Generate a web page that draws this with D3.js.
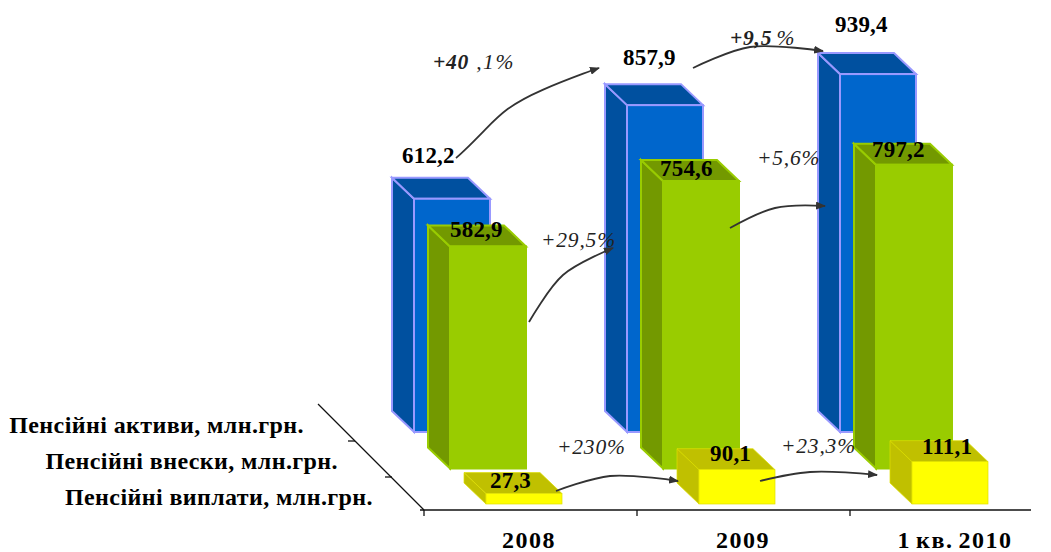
<!DOCTYPE html>
<html><head><meta charset="utf-8">
<script src="https://cdn.jsdelivr.net/npm/d3@7"></script>
<style>html,body{margin:0;background:#fff}svg{display:block}text{font-family:"Liberation Serif",serif}</style>
</head><body><div id="c"></div>
<script>
const categories = ["2008","2009","1 кв. 2010"];
const seriesNames = ["Пенсійні активи, млн.грн.","Пенсійні внески, млн.грн.","Пенсійні виплати, млн.грн."];
const assets = [612.2,857.9,939.4];
const contributions = [582.9,754.6,797.2];
const payments = [27.3,90.1,111.1];
const changes = ["+40,1%","+9,5%","+29,5%","+5,6%","+230%","+23,3%"];

const W=1051,H=552;
const svg=d3.select("#c").append("svg").attr("width",W).attr("height",H);
const fmt=v=>String(v).replace(".",",");
const x=d3.scaleBand().domain(categories).range([424,1063]).paddingInner(0).paddingOuter(0);
const h=d3.scaleLinear().domain([0,1000]).range([0,381]);
const dx=22,dy=21,bw=76;
const series=[
 {name:seriesNames[0],vals:assets,off:-10,base:432,front:"#0066cc",side:"#00509f",stroke:"#9999ff",sw:2},
 {name:seriesNames[1],vals:contributions,off:26,base:468.5,front:"#99cc00",side:"#739900",stroke:"#99cc00",sw:2},
 {name:seriesNames[2],vals:payments,off:62,base:504,front:"#ffff00",side:"#c0c000",stroke:"#e0e000",sw:.7}
];
const ax=svg.append("g").attr("stroke","#111").attr("stroke-width",1.3).attr("fill","none");
svg.append("g").attr("transform","translate(0,510)")
  .call(d3.axisBottom(x).tickValues([]).tickSize(0)).call(g=>g.select("path").attr("stroke","#111").attr("stroke-width",1.3).attr("d","M420,0H1031"));
categories.forEach(c=>ax.append("line").attr("x1",x(c)).attr("x2",x(c)).attr("y1",510).attr("y2",516));
ax.append("line").attr("x1",318).attr("y1",404).attr("x2",424).attr("y2",510);
[[355,441],[392,477]].forEach(p=>ax.append("line").attr("x1",p[0]-7).attr("x2",p[0]).attr("y1",p[1]).attr("y2",p[1]));
categories.forEach((c,i)=>{
 series.forEach(s=>{
  const g=svg.append("g").attr("stroke",s.stroke).attr("stroke-width",s.sw).attr("stroke-linejoin","miter");
  const L=x(c)+s.off, R=L+bw, B=s.base, T=B-h(s.vals[i]);
  g.append("path").attr("fill",s.side).attr("d",`M${L},${T}L${L-dx},${T-dy}V${B-dy}L${L},${B}Z`);
  g.append("path").attr("fill",s.side).attr("d",`M${L},${T}L${L-dx},${T-dy}H${R-dx}L${R},${T}Z`);
  g.append("rect").attr("fill",s.front).attr("x",L).attr("y",T).attr("width",bw).attr("height",B-T);
 });
});
const lab=svg.append("g").attr("font-weight","bold").attr("font-size",23).attr("fill","#000").attr("letter-spacing",".2");
const labelSpots=[[[402,163],[623,65],[835,32]],[[450,237],[660,176],[872,157]],[[490,488],[710,461],[922,454]]];
series.forEach((s,k)=>s.vals.forEach((v,i)=>lab.append("text").attr("x",labelSpots[k][i][0]).attr("y",labelSpots[k][i][1]).text(fmt(v))));
svg.append("g").attr("font-weight","bold").attr("font-size",24).attr("letter-spacing","1.5").attr("word-spacing","-2.5").attr("text-anchor","middle").selectAll("text").data(categories).join("text")
 .attr("x",(d,i)=>[529,743,955][i]).attr("y",548).text(d=>d);
svg.append("g").attr("font-weight","bold").attr("font-size",24).attr("letter-spacing",".4").attr("text-anchor","end").selectAll("text").data(seriesNames).join("text")
 .attr("x",(d,i)=>[304,338,373][i]).attr("y",(d,i)=>[433,469,505][i]).text(d=>d);
const defs=svg.append("defs");
defs.append("marker").attr("id","ah").attr("viewBox","0 0 10 8").attr("refX",9).attr("refY",4).attr("markerUnits","userSpaceOnUse").attr("markerWidth",10).attr("markerHeight",8).attr("orient","auto")
 .append("path").attr("d","M0,0L10,4L0,8Z").attr("fill","#333");
const line=d3.line().curve(d3.curveCatmullRom.alpha(.5));
const arrow1=d3.line().curve(d3.curveBasis);
const arrowPts=[
 [[456,158],[462,153],[484,131],[506,108],[540,90],[590,71],[599,68]],
 [[529,322],[563,275],[613,248]],
 [[693,68],[750,47],[823,51]],
 [[730,228],[775,208],[825,206]],
 [[556,491],[610,476],[678,481]],
 [[760,481],[810,472],[877,475]]
];
svg.append("g").attr("fill","none").attr("stroke","#333").attr("stroke-width",1.8).selectAll("path").data(arrowPts).join("path")
 .attr("d",(d,i)=>i==0?arrow1(d):line(d)).attr("marker-end","url(#ah)");
const ch=svg.append("g").attr("font-style","italic").attr("font-size",21.5).attr("fill","#222").attr("letter-spacing",".8");
const chSpots=[[433,69],[730,45],[541,247],[757,165],[557,454],[781,453]];
changes.forEach((t,i)=>{
 const el=ch.append("text").attr("x",chSpots[i][0]).attr("y",chSpots[i][1]);
 if(i==0){el.append("tspan").attr("font-weight","bold").text("+40");el.append("tspan").attr("dx",0).attr("letter-spacing",1.6).text(" ,1%");}
 else if(i==1){el.append("tspan").attr("font-weight","bold").text("+9,5");el.append("tspan").attr("dx",-2).text(" %");}
 else el.text(t);
});
</script></body></html>
